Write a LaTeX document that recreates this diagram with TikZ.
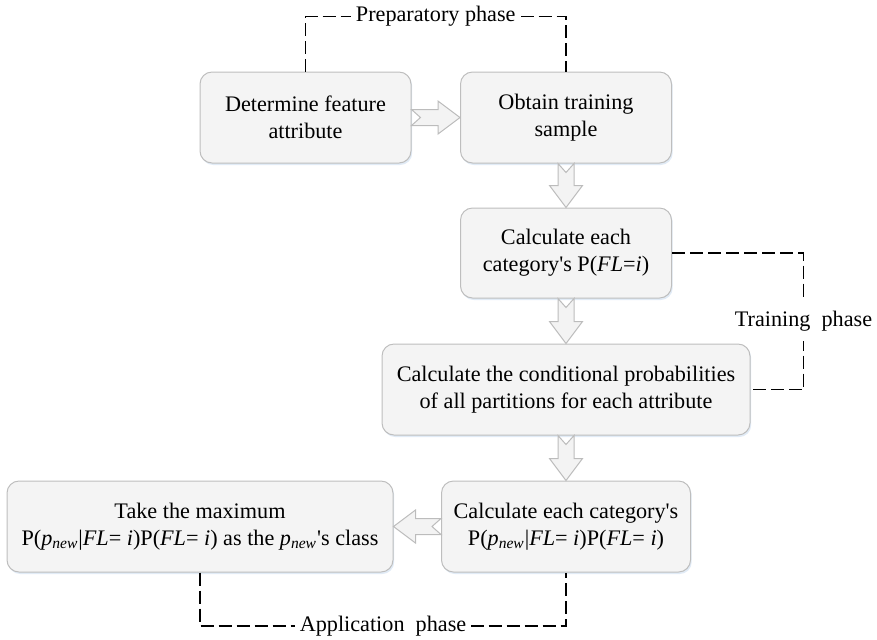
\documentclass[tikz,border=0pt]{standalone}
\usepackage{fontspec}
\setmainfont{Liberation Serif}
\usetikzlibrary{calc,shadows}

\definecolor{boxfill}{RGB}{244,244,244}
\definecolor{boxline}{RGB}{190,190,190}
\definecolor{arrowfill}{RGB}{243,243,243}
\definecolor{arrowline}{RGB}{188,188,188}
\definecolor{glowblue}{RGB}{212,226,242}

\newcommand{\pnew}{\textit{p}\textsubscript{\textit{new}}}
\newcommand{\apos}{\textquotesingle}

% hollow block arrows between two boxes
\newcommand{\arrowdown}[2]{%
\draw[flowarrow] ($(#1.south)+(-8,0)$) -- ($(#2.north)+(-8,22)$) -- ($(#2.north)+(-16.5,22)$) -- (#2.north)
  -- ($(#2.north)+(16.5,22)$) -- ($(#2.north)+(8,22)$) -- ($(#1.south)+(8,0)$) -- ($(#1.south)+(0,-9)$) -- cycle;}
\newcommand{\arrowright}[2]{%
\draw[flowarrow] ($(#1.east)+(0,8)$) -- ($(#2.west)+(-22,8)$) -- ($(#2.west)+(-22,16.5)$) -- (#2.west)
  -- ($(#2.west)+(-22,-16.5)$) -- ($(#2.west)+(-22,-8)$) -- ($(#1.east)+(0,-8)$) -- ($(#1.east)+(9,0)$) -- cycle;}
\newcommand{\arrowleft}[2]{%
\draw[flowarrow] ($(#1.west)+(0,8)$) -- ($(#2.east)+(22,8)$) -- ($(#2.east)+(22,16.5)$) -- (#2.east)
  -- ($(#2.east)+(22,-16.5)$) -- ($(#2.east)+(22,-8)$) -- ($(#1.west)+(0,-8)$) -- ($(#1.west)+(-9,0)$) -- cycle;}

\begin{document}
\begin{tikzpicture}[x=0.5pt,y=0.5pt,
  font=\fontsize{11.1}{13.5}\selectfont,
  stage/.style={draw=boxline, fill=boxfill, line width=0.5pt, rounded corners=6pt,
    align=center, inner sep=0pt, minimum height=45.5pt,
    drop shadow={shadow xshift=0.6pt, shadow yshift=-1pt, fill=glowblue, opacity=0.7}},
  flowarrow/.style={draw=arrowline, fill=arrowfill, line width=0.5pt, line join=miter},
  phaseline/.style={line width=0.8pt, dash pattern=on 6.5pt off 2.5pt},
  phaselabel/.style={fill=white, inner xsep=2.5pt, inner ysep=1pt}]
\useasboundingbox (0,0) rectangle (877,-639);

% stages
\node[stage, minimum width=105.5pt] (attr) at (305.5,-117.5) {Determine feature\\ attribute};
\node[stage, minimum width=105.5pt] (sample) at (566,-117.5) {Obtain training\\ sample};
\node[stage, minimum width=105.5pt, minimum height=45pt] (prior) at (566,-253) {Calculate each\\ category\apos s P(\textit{FL}=\textit{i})};
\node[stage, minimum width=184pt] (cond) at (566,-389.5) {Calculate the conditional probabilities\\ of all partitions for each attribute};
\node[stage, minimum width=124.5pt] (post) at (566,-526.5) {Calculate each category\apos s\\ P(\pnew|\textit{FL}= \textit{i})P(\textit{FL}= \textit{i})};
\node[stage, minimum width=193pt] (decide) at (200,-526.5) {Take the maximum\\ P(\pnew|\textit{FL}= \textit{i})P(\textit{FL}= \textit{i}) as the \pnew\apos s class};

% flow
\arrowright{attr}{sample}
\arrowdown{sample}{prior}
\arrowdown{prior}{cond}
\arrowdown{cond}{post}
\arrowleft{post}{decide}

% phases
\draw[phaseline] (attr.north) -- ($(attr.north)+(0,55)$)
  -- node[phaselabel] (prep) {Preparatory phase} ($(sample.north)+(0,55)$) -- (sample.north);
\draw[phaseline] (prior.east) -- ($(prior.east)+(131.5,0)$)
  -- node[phaselabel, inner ysep=5pt] (train) {Training~ phase} ($(cond.east)+(53,0)$) -- (cond.east);
\draw[phaseline] (decide.south) -- ($(decide.south)+(0,-53.5)$)
  -- node[phaselabel] (app) {Application~ phase} ($(post.south)+(0,-53.5)$) -- (post.south);
\end{tikzpicture}
\end{document}
